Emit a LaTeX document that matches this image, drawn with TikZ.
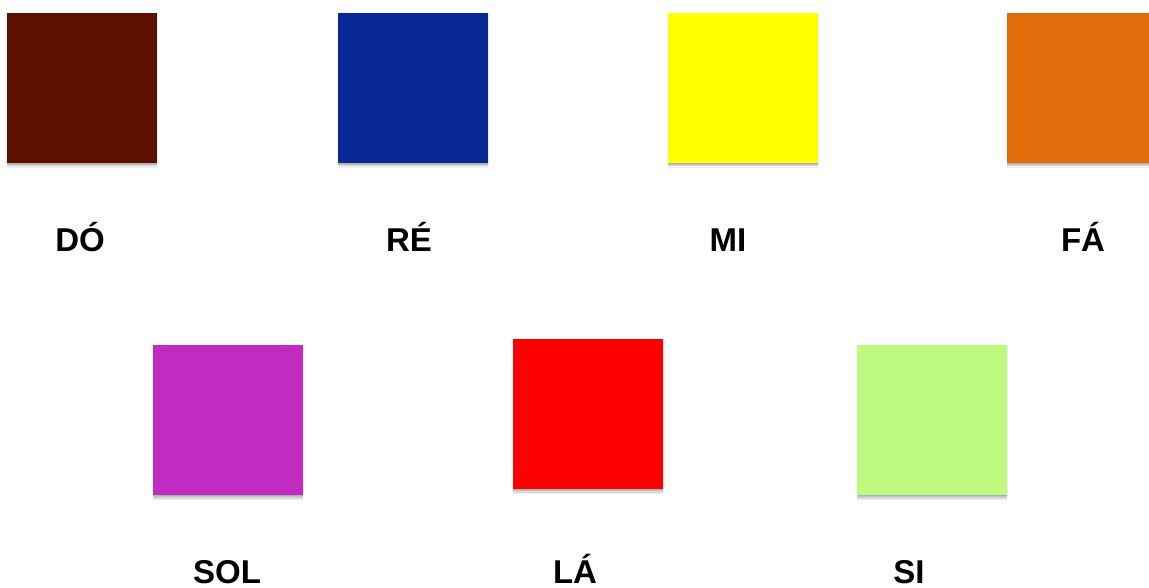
\documentclass[tikz,border=0pt]{standalone}
\usepackage{fontspec}
\setmainfont{Liberation Sans}
\definecolor{cdo}{RGB}{92,16,0}
\definecolor{cre}{RGB}{10,40,150}
\definecolor{cmi}{RGB}{255,255,0}
\definecolor{cfa}{RGB}{224,108,10}
\definecolor{csol}{RGB}{194,43,191}
\definecolor{cla}{RGB}{253,0,0}
\definecolor{csi}{RGB}{191,250,128}
\begin{document}
\begin{tikzpicture}[x=1pt,y=-1pt,
  swatch/.style={minimum width=150pt,minimum height=150pt,inner sep=0pt,outer sep=0pt,anchor=north west,
    fill=#1,
    preaction={fill=black,opacity=0.06,transform canvas={yshift=-5pt}},
    preaction={fill=black,opacity=0.10,transform canvas={yshift=-3.5pt}},
    preaction={fill=black,opacity=0.12,transform canvas={yshift=-2pt}},
    preaction={fill=black,opacity=0.08,transform canvas={xshift=1pt,yshift=-1pt}}},
  note/.style={anchor=base,inner sep=0pt,font=\fontsize{33}{40}\selectfont\bfseries}]
\useasboundingbox (0,0) rectangle (1149,588);
\node[swatch=cdo] (sdo) at (7,13) {};
\node[swatch=cre] (sre) at (338,13) {};
\node[swatch=cmi] (smi) at (668,13) {};
\node[swatch=cfa] (sfa) at (1007,13) {};
\node[swatch=csol] (ssol) at (153,345) {};
\node[swatch=cla] (sla) at (513,339) {};
\node[swatch=csi] (ssi) at (857,345) {};
\node[note] (ldo) at (80,252) {DÓ};
\node[note] (lre) at (409,252) {RÉ};
\node[note] (lmi) at (728,252) {MI};
\node[note] (lfa) at (1083,252) {FÁ};
\node[note] (lsol) at (227,583) {SOL};
\node[note] (lla) at (575,583) {LÁ};
\node[note] (lsi) at (909,583) {SI};
\end{tikzpicture}
\end{document}
